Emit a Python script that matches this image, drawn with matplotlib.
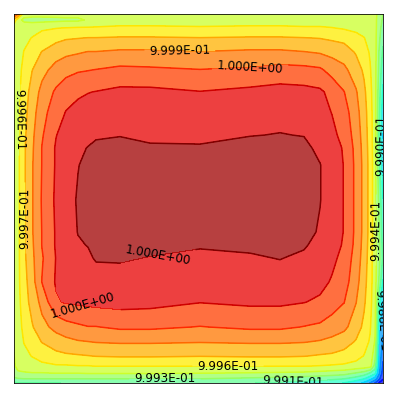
import numpy as np
import matplotlib
matplotlib.use("Agg")
import matplotlib.pyplot as plt

# positions of the grid nodes, in pixels from the top-left corner of the frame
x_pos = [0, 4, 10, 18, 28, 42, 52, 64, 74, 82, 106, 136, 186, 236, 266, 290,
         306, 318, 330, 342, 350, 356, 361, 365, 369]
y_pos = [0, 6, 14, 24, 38, 56, 78, 98, 121, 134, 151, 186, 218, 231, 244, 268,
         288, 313, 328, 342, 352, 359, 365, 369]

# field: (value - 1) in units of 1e-5, one row per y_pos
z_dev = [
    [4, -8, -51, -51, -51, -51, -51, -51, -51, -51, -51, -51, -51, -51, -51, -51, -51, -51, -51, -51, -51, -51, -51, -61, -70],
    [-30, -51, -58, -60, -60, -59, -58, -58, -54, -50, -47, -47, -47, -47, -47, -47, -47, -48, -48, -49, -49, -50, -51, -63, -73],
    [-51, -50, -48, -46, -43, -41, -40, -39, -39, -39, -38, -38, -39, -38, -38, -39, -39, -40, -42, -44, -46, -48, -51, -64, -78],
    [-51, -49, -44, -40, -34, -30, -27, -26, -25, -25, -24, -24, -25, -24, -24, -25, -26, -28, -30, -36, -40, -45, -51, -67, -82],
    [-51, -47, -40, -33, -25, -17, -14, -12, -10, -10, -8, -8, -10, -8, -8, -10, -12, -15, -18, -27, -34, -42, -50, -71, -88],
    [-51, -46, -36, -26, -15, -5, 0, 3, 4, 5, 8, 7, 5, 7, 10, 9, 7, -1, -7, -18, -28, -39, -50, -73, -96],
    [-51, -45, -33, -20, -6, 7, 13, 17, 19, 20, 23, 23, 20, 23, 25, 24, 22, 15, 5, -9, -22, -36, -50, -78, -103],
    [-51, -44, -31, -17, -1, 13, 20, 24, 26, 28, 30, 29, 27, 30, 30, 28, 25, 19, 11, -5, -19, -34, -50, -82, -110],
    [-51, -44, -29, -14, 3, 19, 25, 29, 31, 33, 34, 32, 31, 34, 35, 34, 29, 23, 15, -2, -17, -33, -50, -86, -116],
    [-51, -44, -28, -13, 5, 21, 27, 32, 35, 37, 38, 36, 36, 39, 40, 38, 31, 26, 18, 0, -16, -32, -50, -84, -114],
    [-51, -44, -28, -12, 5, 21, 27, 34, 38, 40, 43, 42, 40, 43, 44, 41, 35, 27, 19, 1, -15, -31, -50, -81, -111],
    [-51, -44, -28, -12, 6, 22, 28, 36, 39, 42, 45, 45, 43, 45, 46, 42, 35, 27, 19, 1, -15, -31, -50, -73, -100],
    [-51, -44, -28, -12, 5, 21, 27, 35, 38, 40, 43, 42, 40, 42, 42, 39, 33, 26, 19, 1, -15, -31, -49, -69, -94],
    [-51, -44, -28, -13, 5, 21, 26, 33, 35, 38, 40, 38, 36, 37, 38, 36, 30, 25, 18, 0, -16, -32, -50, -67, -91],
    [-51, -44, -29, -14, 3, 20, 24, 29, 32, 36, 36, 34, 31, 33, 35, 32, 28, 23, 15, -2, -17, -33, -50, -66, -88],
    [-51, -44, -31, -17, 5, 21, 22, 24, 26, 27, 29, 28, 27, 28, 28, 27, 24, 18, 11, -5, -20, -34, -50, -72, -102],
    [-51, -45, -33, -20, -6, 18, 21, 22, 23, 24, 25, 24, 20, 22, 22, 20, 17, 11, 5, -10, -23, -36, -50, -95, -116],
    [-52, -46, -37, -27, -15, -6, -1, 2, 4, 4, 7, 7, 4, 7, 7, 4, 2, -2, -7, -18, -29, -39, -52, -110, -127],
    [-54, -48, -40, -33, -25, -18, -15, -12, -11, -10, -9, -9, -10, -9, -9, -10, -12, -15, -19, -27, -35, -42, -57, -115, -133],
    [-56, -49, -44, -40, -35, -30, -28, -27, -26, -25, -24, -24, -25, -24, -24, -25, -27, -28, -31, -36, -41, -45, -66, -118, -142],
    [-58, -50, -48, -46, -44, -42, -42, -41, -41, -40, -40, -40, -40, -40, -40, -40, -41, -42, -43, -45, -47, -49, -76, -122, -148],
    [-61, -58, -57, -56, -56, -55, -55, -55, -54, -54, -54, -54, -55, -56, -57, -58, -60, -62, -64, -71, -76, -86, -96, -126, -153],
    [-74, -72, -71, -71, -71, -71, -71, -71, -71, -71, -71, -71, -71, -74, -76, -79, -81, -83, -86, -93, -101, -111, -123, -142, -160],
    [-89, -86, -86, -86, -86, -86, -85, -84, -83, -82, -81, -81, -81, -85, -88, -91, -93, -97, -101, -110, -118, -131, -146, -161, -172],
]

levels = [0.998095, 0.998245, 0.998395, 0.998545, 0.998695, 0.998845, 0.998995,
          0.999145, 0.999295, 0.999445, 0.999595, 0.999745, 0.999895,
          1.000045, 1.000195, 1.000345, 1.000495]

# label anchors: (level index, x, y)
label_spots = [
    (12, 166, 38),
    (13, 236, 52),
    (11, 11, 204),
    (10, 3, 106),
    (15, 144, 243),
    (14, 68, 297),
    (10, 214, 352),
    (8, 151, 364),
    (7, 279, 366),
    (6, 364, 131),
    (9, 364, 216),
    (5, 366, 306),
]

fig = plt.figure(figsize=(5.5, 5.5), dpi=72)
ax = fig.add_axes([14 / 396, 13 / 396, 369 / 396, 369 / 396])

X, Y = np.meshgrid(x_pos, y_pos)
Z = 1 + np.array(z_dev) * 1e-5

ax.contourf(X, Y, Z, levels=levels, cmap="jet", alpha=0.75)

# one line set per level so each label lands on its own level
n_lines = len(levels) - 1
for k in range(n_lines):
    if not (Z.min() < levels[k] < Z.max()):
        continue
    cs = ax.contour(X, Y, Z, levels=[levels[k]],
                    colors=[plt.cm.jet(k / (n_lines - 1))], linewidths=1.5)
    spots = [(lx, ly) for kk, lx, ly in label_spots if kk == k]
    if spots:
        ax.clabel(cs, manual=spots, fmt="%.3E", fontsize=12, colors="k")

ax.set_xlim(0, 369)
ax.set_ylim(369, 0)
ax.set_xticks([])
ax.set_yticks([])

fig.savefig("out.png", dpi=72)
